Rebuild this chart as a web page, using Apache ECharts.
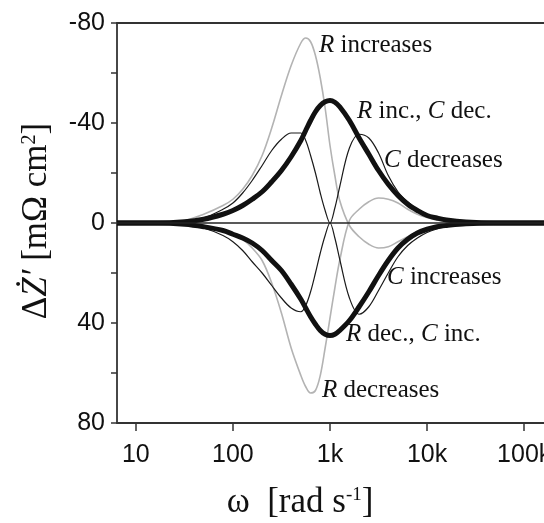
<!DOCTYPE html>
<html><head><meta charset="utf-8">
<script src="https://cdn.jsdelivr.net/npm/echarts@6/dist/echarts.min.js"></script>
<style>html,body{margin:0;padding:0;background:#fff}#c{width:544px;height:523px}</style>
</head><body><div id="c"></div>
<script>
// angular frequency grid (rad/s)
const omega = [6.4, 16, 32, 50, 79, 100, 126, 158, 200, 251, 316, 398, 501, 562, 631, 708, 794, 891,
  1000, 1122, 1259, 1585, 1995, 2512, 3162, 3981, 5012, 6310, 7943, 10000, 12589, 15849, 25119, 50119, 160000];
// series values (mΩ cm²)
const rIncreases = [0, 0, -1, -3.5, -7, -9.5, -13.5, -19, -27, -38, -51, -63, -72, -74, -72.5, -67, -58, -46,
  -31, -19, -9, 1, 5.5, 8.5, 10, 9.5, 7.5, 5.5, 3.5, 2, 1.2, 0.6, 0.2, 0, 0];
const rDecreases = [0, 0, 0.5, 1.5, 3, 4.5, 6.5, 10, 15, 24, 36, 50, 61, 65.5, 68, 67, 61, 50,
  38, 26, 15, -1, -5.5, -8.5, -10, -9.5, -8, -5.5, -3.5, -2.2, -1.2, -0.6, -0.2, 0, 0];
const cDecreases = [0, 0, -0.5, -2, -5.5, -8, -12, -17, -23, -29, -33.5, -36, -36, -33, -27, -20, -12, -5,
  0, -6, -14.5, -30, -35.5, -34, -28, -19, -12.5, -8.5, -5.5, -3.5, -2.2, -1.4, -0.5, 0, 0];
const cIncreases = [0, 0, 0.5, 2, 5, 7.5, 11, 15.5, 20, 25, 30, 34, 35.5, 33, 27.5, 20, 12, 5,
  0, 6, 14.5, 30, 36.5, 33.5, 27, 20, 13.5, 9, 6, 3.8, 2.4, 1.5, 0.5, 0, 0];
const rIncCDec = [0, 0, -0.5, -1.5, -3.5, -5, -7, -9.5, -12.5, -16.5, -21, -26.5, -33, -37, -41, -44.5, -47, -48.5,
  -49, -48.3, -46.5, -41, -34, -27.5, -21, -15.5, -11, -7.5, -5, -3, -2, -1.2, -0.4, 0, 0];
const rDecCInc = [0, 0, 0.5, 1.5, 3, 4.5, 6, 8, 11, 15, 19, 24.5, 30.5, 34, 37.5, 40.5, 43, 44.5,
  45, 44.5, 43, 39, 33.5, 27.5, 21, 15, 10, 6.5, 4, 2.5, 1.5, 1, 0.3, 0, 0];
// tick labels
const xTickValues = [10, 100, 1000, 10000, 100000];
const xTickLabels = ['10', '100', '1k', '10k', '100k'];
const yTickLabels = ['-80', '-40', '0', '40', '80'];

const pairs = v => omega.map((w, i) => [w, v[i]]);
const chart = echarts.init(document.getElementById('c'), null, {renderer: 'canvas'});
const axisCol = '#333';
const sans = '"Liberation Sans", Arial, sans-serif';
const serif = '"Liberation Serif", "Times New Roman", serif';
function line(name, data, color, width, z) {
  return {name, type: 'line', data: pairs(data), smooth: 0.35, showSymbol: false, symbol: 'none',
    lineStyle: {color, width}, z, silent: true, clip: true};
}
const series = [
  line('R increases', rIncreases, '#b3b3b3', 1.6, 2),
  line('R decreases', rDecreases, '#b3b3b3', 1.6, 2),
  line('C decreases', cDecreases, '#1a1a1a', 1.2, 3),
  line('C increases', cIncreases, '#1a1a1a', 1.2, 3),
  line('R inc., C dec.', rIncCDec, '#111', 5, 4),
  line('R dec., C inc.', rDecCInc, '#111', 5, 4)
];
series[0].markLine = {silent: true, symbol: 'none', label: {show: false},
  lineStyle: {color: '#222', width: 1.5, type: 'solid'}, data: [{yAxis: 0}]};

const lbl = (text, x, baseline) => ({
  type: 'text', x: x, y: baseline - 8, z: 10,
  style: {text, fill: '#111', fontSize: 25, fontFamily: serif, verticalAlign: 'middle', align: 'left',
    rich: {i: {fontStyle: 'italic', fontSize: 25, fontFamily: serif}, n: {fontSize: 25, fontFamily: serif}}}
});

chart.setOption({
  animation: false,
  backgroundColor: '#fff',
  grid: {left: 117, top: 23, right: 0, bottom: 100, containLabel: false, outerBoundsMode: 'none'},
  xAxis: [{
    type: 'log', logBase: 10, min: 6.4, max: 160000, position: 'bottom',
    axisLine: {onZero: false, lineStyle: {color: axisCol, width: 1.8}},
    axisTick: {length: 8, lineStyle: {color: axisCol, width: 1.5}, customValues: xTickValues},
    axisLabel: {customValues: xTickValues, margin: 20, fontSize: 25, fontFamily: sans, color: '#111',
      hideOverlap: false,
      formatter: v => { const k = xTickValues.findIndex(t => Math.abs(t - v) / t < 1e-6); return k >= 0 ? xTickLabels[k] : ''; }},
    splitLine: {show: false}
  }, {
    type: 'log', logBase: 10, min: 6.4, max: 160000, position: 'top',
    axisLine: {onZero: false, lineStyle: {color: axisCol, width: 1.8}},
    axisTick: {show: false}, axisLabel: {show: false}, splitLine: {show: false}
  }],
  yAxis: {
    type: 'value', inverse: true, min: -80, max: 80, interval: 20,
    axisLine: {show: true, onZero: false, lineStyle: {color: axisCol, width: 1.8}},
    axisTick: {show: true, length: 6, lineStyle: {color: axisCol, width: 1.5}},
    axisLabel: {margin: 12, fontSize: 25, fontFamily: sans, color: '#111',
      formatter: v => yTickLabels.includes(String(v)) ? String(v) : ''},
    splitLine: {show: false}
  },
  series,
  graphic: [
    lbl('{i|R}{n| increases}', 319, 53),
    lbl('{i|R}{n| inc., }{i|C}{n| dec.}', 357, 119),
    lbl('{i|C}{n| decreases}', 384, 168),
    lbl('{i|C}{n| increases}', 387, 285),
    lbl('{i|R}{n| dec., }{i|C}{n| inc.}', 346, 342),
    lbl('{i|R}{n| decreases}', 322, 398),
    {type: 'text', x: 37, y: 221, rotation: Math.PI / 2, z: 10,
      style: {text: '{n|Δ}{i|Ż′}{n| [mΩ cm}{s|2}{n|]}', fill: '#111', align: 'center', verticalAlign: 'middle',
        fontSize: 35, fontFamily: serif,
        rich: {n: {fontSize: 35, fontFamily: serif}, i: {fontSize: 35, fontFamily: serif, fontStyle: 'italic'},
          s: {fontSize: 20, fontFamily: serif, verticalAlign: 'top'}}}},
    {type: 'text', x: 300, y: 503, z: 10,
      style: {text: '{n|ω  [rad s}{s|-1}{n|]}', fill: '#111', align: 'center', verticalAlign: 'middle',
        fontSize: 35, fontFamily: serif,
        rich: {n: {fontSize: 35, fontFamily: serif}, s: {fontSize: 19, fontFamily: serif, verticalAlign: 'top'}}}}
  ]
});
</script>
</body></html>
